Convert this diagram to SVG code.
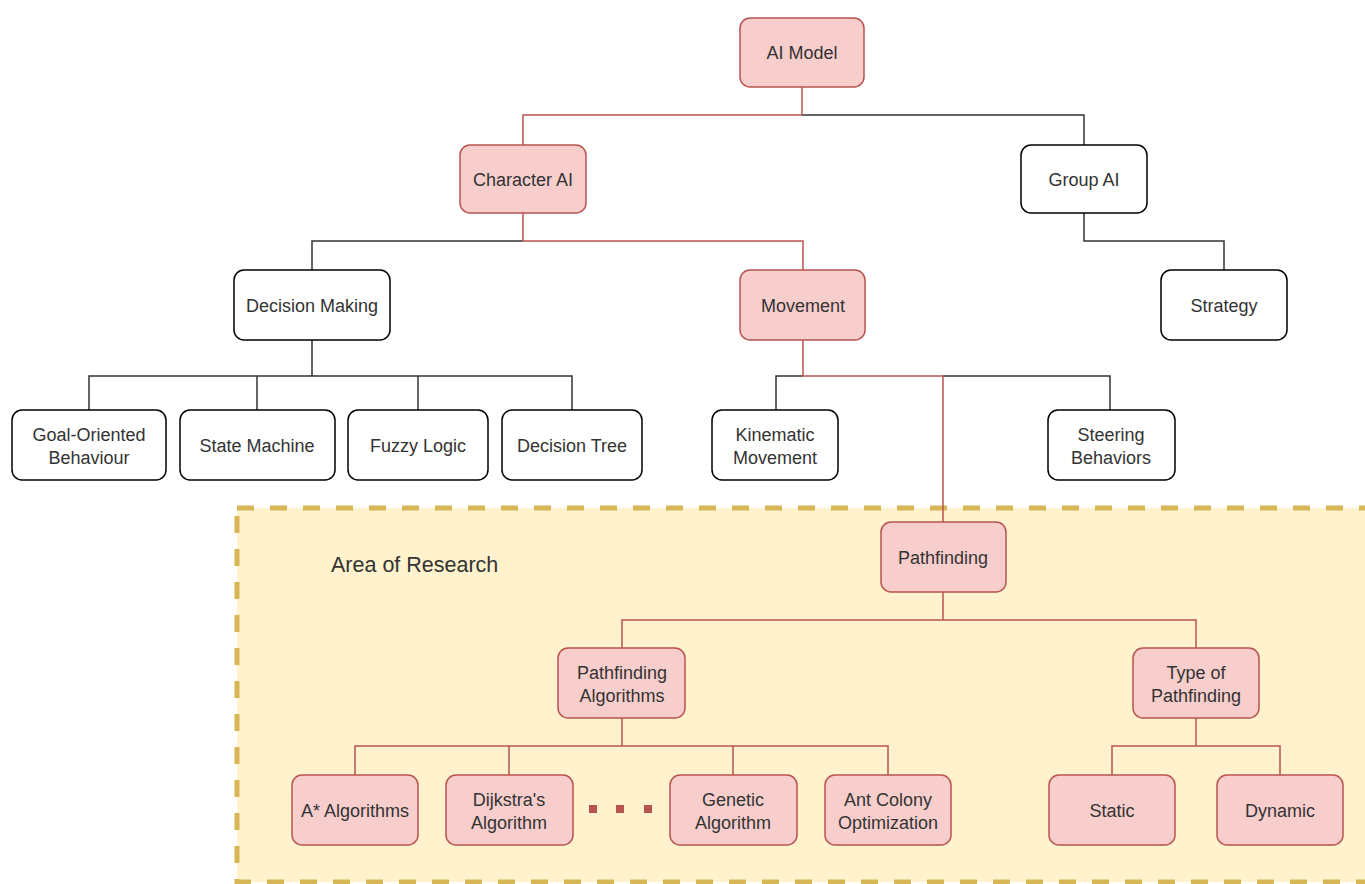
<svg xmlns="http://www.w3.org/2000/svg" width="1365" height="884" viewBox="0 0 1365 884">
<style>
.n rect{stroke-width:1.5}
.w rect{fill:#ffffff;stroke:#000000}
.p rect{fill:#f8cecc;stroke:#b85450}
text{font-family:"Liberation Sans",Arial,sans-serif;font-size:18px;fill:#333333;text-anchor:middle}
.ck{fill:none;stroke:#333333;stroke-width:1.5}
.cr{fill:none;stroke:#b85450;stroke-width:1.5}
</style>
<rect width="1365" height="884" fill="#ffffff"/>
<g id="area">
<rect x="237" y="508" width="1140" height="374" fill="#fff2cc" stroke="#d6b656" stroke-width="5" stroke-dasharray="17,16"/>
<text x="331" y="572" style="font-size:21.5px;text-anchor:start">Area of Research</text>
</g>
<g id="connectors">
<path class="ck" d="M802 115 H1084 V145"/>
<path class="ck" d="M523 241 H312 V270"/>
<path class="ck" d="M1084 213 V241 H1224 V270"/>
<path class="ck" d="M312 340 V376 M89 410 V376 H572 V410 M257 376 V410 M418 376 V410"/>
<path class="ck" d="M803 376 H776 V410 M943 376 H1110 V410"/>
<path class="cr" d="M802 87 V115 H523 V145"/>
<path class="cr" d="M523 213 V241 H803 V270"/>
<path class="cr" d="M803 340 V376 H943 V522"/>
<path class="cr" d="M943 592 V620 H622 V648 M943 620 H1196 V648"/>
<path class="cr" d="M622 718 V746 H355 V775 M509 746 V775 M622 746 H888 V775 M733 746 V775"/>
<path class="cr" d="M1196 718 V746 H1112 V775 M1196 746 H1280 V775"/>
</g>
<g id="n-aimodel" class="n p"><rect x="740" y="18" width="124" height="69" rx="10"/><text x="802" y="59">AI Model</text></g>
<g id="n-character" class="n p"><rect x="460" y="145" width="126" height="68" rx="10"/><text x="523" y="186">Character AI</text></g>
<g id="n-group" class="n w"><rect x="1021" y="145" width="126" height="68" rx="10"/><text x="1084" y="186">Group AI</text></g>
<g id="n-decision" class="n w"><rect x="234" y="270" width="156" height="70" rx="10"/><text x="312" y="312">Decision Making</text></g>
<g id="n-movement" class="n p"><rect x="740" y="270" width="125" height="70" rx="10"/><text x="803" y="312">Movement</text></g>
<g id="n-strategy" class="n w"><rect x="1161" y="270" width="126" height="70" rx="10"/><text x="1224" y="312">Strategy</text></g>
<g id="n-goal" class="n w"><rect x="12" y="410" width="154" height="70" rx="10"/><text x="89" y="441">Goal-Oriented</text><text x="89" y="464">Behaviour</text></g>
<g id="n-state" class="n w"><rect x="180" y="410" width="155" height="70" rx="10"/><text x="257" y="452">State Machine</text></g>
<g id="n-fuzzy" class="n w"><rect x="348" y="410" width="140" height="70" rx="10"/><text x="418" y="452">Fuzzy Logic</text></g>
<g id="n-tree" class="n w"><rect x="502" y="410" width="140" height="70" rx="10"/><text x="572" y="452">Decision Tree</text></g>
<g id="n-kinematic" class="n w"><rect x="712" y="410" width="126" height="70" rx="10"/><text x="775" y="441">Kinematic</text><text x="775" y="464">Movement</text></g>
<g id="n-steering" class="n w"><rect x="1048" y="410" width="127" height="70" rx="10"/><text x="1111" y="441">Steering</text><text x="1111" y="464">Behaviors</text></g>
<g id="n-pathfinding" class="n p"><rect x="881" y="522" width="125" height="70" rx="10"/><text x="943" y="564">Pathfinding</text></g>
<g id="n-palgo" class="n p"><rect x="558" y="648" width="127" height="70" rx="10"/><text x="622" y="679">Pathfinding</text><text x="622" y="702">Algorithms</text></g>
<g id="n-type" class="n p"><rect x="1133" y="648" width="126" height="70" rx="10"/><text x="1196" y="679">Type of</text><text x="1196" y="702">Pathfinding</text></g>
<g id="n-astar" class="n p"><rect x="292" y="775" width="126" height="70" rx="10"/><text x="355" y="817">A* Algorithms</text></g>
<g id="n-dijkstra" class="n p"><rect x="446" y="775" width="127" height="70" rx="10"/><text x="509" y="806">Dijkstra's</text><text x="509" y="829">Algorithm</text></g>
<g id="dots" fill="#b85450"><rect x="589" y="805" width="8" height="8"/><rect x="616" y="805" width="8" height="8"/><rect x="644" y="805" width="8" height="8"/></g>
<g id="n-genetic" class="n p"><rect x="670" y="775" width="127" height="70" rx="10"/><text x="733" y="806">Genetic</text><text x="733" y="829">Algorithm</text></g>
<g id="n-ant" class="n p"><rect x="825" y="775" width="126" height="70" rx="10"/><text x="888" y="806">Ant Colony</text><text x="888" y="829">Optimization</text></g>
<g id="n-static" class="n p"><rect x="1049" y="775" width="126" height="70" rx="10"/><text x="1112" y="817">Static</text></g>
<g id="n-dynamic" class="n p"><rect x="1217" y="775" width="126" height="70" rx="10"/><text x="1280" y="817">Dynamic</text></g>
</svg>
